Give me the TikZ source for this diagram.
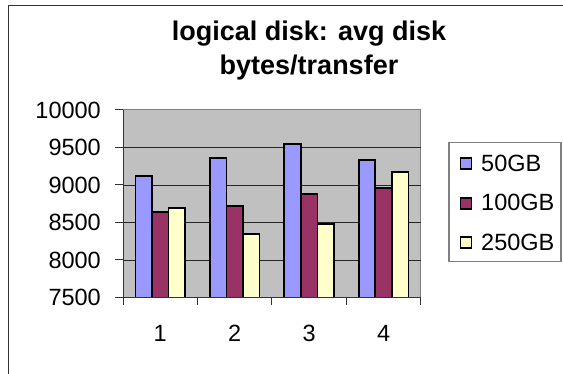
\documentclass[tikz,border=0pt]{standalone}
\usepackage{fontspec}
\setmainfont{Liberation Sans}
\definecolor{barblue}{HTML}{9999FF}
\definecolor{barred}{HTML}{993366}
\definecolor{baryellow}{HTML}{FFFFCC}
\definecolor{plotbg}{HTML}{C0C0C0}
\definecolor{framegray}{HTML}{808080}
\definecolor{axisdark}{HTML}{333333}
\begin{document}
\begin{tikzpicture}[x=1pt,y=-1pt,
  bar/.style={draw=black, line width=1.8pt},
  lbl/.style={font=\fontsize{23.5}{28}\selectfont, inner sep=0pt},
  swatch/.style={draw=black, line width=1.4pt, minimum width=11pt, minimum height=11pt, inner sep=0pt},
  gridln/.style={draw=black!85, line width=0.8pt},
  axisln/.style={draw=axisdark, line width=1pt}]
\useasboundingbox (0,0) rectangle (563,374);
\clip (0,0) rectangle (563,374);
% chart frame
\draw[draw=axisdark, line width=1pt] (8.7,5.7) rectangle (580,390);
% title
\node[font=\fontsize{27}{33.3}\selectfont\bfseries, align=center, inner sep=0pt] (title) at (309,50.5) {logical disk: avg disk\\bytes/transfer};
% plot area
\fill[plotbg] (123,110) rectangle (420.8,297.5);
\draw[draw=framegray, line width=1pt] (123,110) -- (420.8,110) -- (420.8,297.5);
\foreach \k in {1,...,4}{
  \draw[gridln] (123,{297.5-\k*37.5}) -- (420.8,{297.5-\k*37.5});
}
% bars
\foreach \g/\va/\vb/\vc in {0/9120/8636/8693, 1/9360/8720/8347, 2/9547/8876/8480, 3/9329/8960/9173}{
  \pgfmathsetmacro\xa{135.4+\g*74.45}
  \pgfmathsetmacro\xb{\xa+16.55}
  \pgfmathsetmacro\xc{\xb+16.55}
  \pgfmathsetmacro\xd{\xc+16.55}
  \pgfmathsetmacro\ya{297.5-(\va-7500)*0.075}
  \pgfmathsetmacro\yb{297.5-(\vb-7500)*0.075}
  \pgfmathsetmacro\yc{297.5-(\vc-7500)*0.075}
  \draw[bar, fill=barblue] (\xa,297.5) rectangle (\xb,\ya);
  \draw[bar, fill=barred] (\xb,297.5) rectangle (\xc,\yb);
  \draw[bar, fill=baryellow] (\xc,297.5) rectangle (\xd,\yc);
}
% axes
\draw[axisln] (123,110) -- (123,305);
\draw[axisln] (123,297.5) -- (420.8,297.5);
\foreach \k in {0,...,5}{
  \draw[axisln] (115,{297.5-\k*37.5}) -- (123,{297.5-\k*37.5});
}
\foreach \k in {1,...,4}{
  \draw[axisln] ({123+\k*74.45},297.5) -- ({123+\k*74.45},305);
}
% y labels
\node[lbl, anchor=east] (y0) at (101,297.5) {7500};
\node[lbl, anchor=east] (y1) at (101,260) {8000};
\node[lbl, anchor=east] (y2) at (101,222.5) {8500};
\node[lbl, anchor=east] (y3) at (101,185) {9000};
\node[lbl, anchor=east] (y4) at (101,147.5) {9500};
\node[lbl, anchor=east] (y5) at (101,110) {10000};
% x labels
\node[lbl] (x1) at (160.2,333.5) {1};
\node[lbl] (x2) at (234.7,333.5) {2};
\node[lbl] (x3) at (309.1,333.5) {3};
\node[lbl] (x4) at (383.6,333.5) {4};
% legend
\node[draw=framegray, line width=1.2pt, minimum width=112pt, minimum height=119pt, inner sep=0pt] (legend) at (505,202.2) {};
\node[swatch, fill=barblue] (s1) at (466,163.5) {};
\node[swatch, fill=barred] (s2) at (466,203.5) {};
\node[swatch, fill=baryellow] (s3) at (466,242.5) {};
\node[lbl, anchor=west] (l1) at (481,163) {50GB};
\node[lbl, anchor=west] (l2) at (481,202.5) {100GB};
\node[lbl, anchor=west] (l3) at (481,242) {250GB};
\end{tikzpicture}
\end{document}
